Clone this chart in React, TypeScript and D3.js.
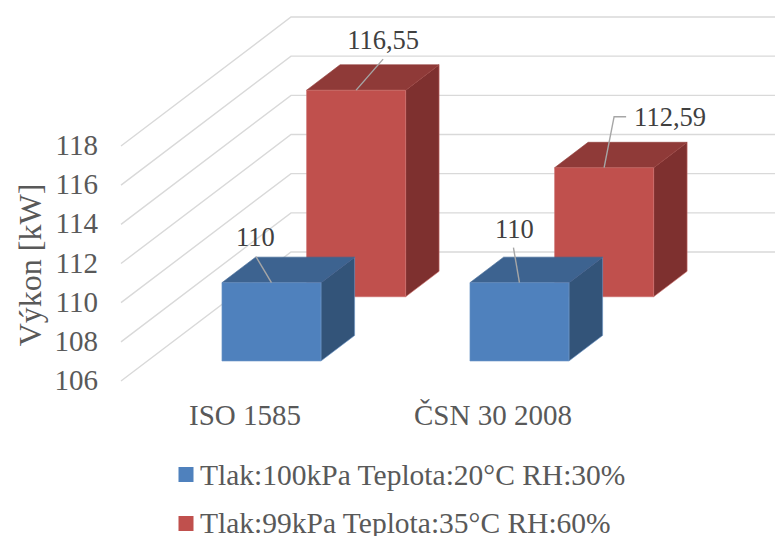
import React from "react";
import * as d3 from "d3";

const categories = ["ISO 1585", "ČSN 30 2008"];
const seriesNames = ["Tlak:100kPa Teplota:20°C RH:30%", "Tlak:99kPa Teplota:35°C RH:60%"];
const seriesA = [110, 110];
const seriesB = [116.55, 112.59];
const labelsA = ["110", "110"];
const labelsB = ["116,55", "112,59"];
const ticks = [106, 108, 110, 112, 114, 116, 118];

const FONT = "'Liberation Serif', 'Times New Roman', serif";
const W = 775, H = 536;
const depthX = 170, depthY = 129;
const y = d3.scaleLinear().domain([106, 118]).range([381, 146]);
const x = d3.scaleBand<string>().domain(categories).range([121, 617]).paddingInner(0).paddingOuter(0);
const project = (fx: number, v: number, d: number): [number, number] => [fx + depthX * d, y(v) - depthY * d];
const path = (pts: [number, number][]) => d3.line()(pts) + "Z";

const barInset = 74.6, barW = 99;
const depths = [{ front: 0.155, back: 0.353 }, { front: 0.653, back: 0.85 }];
const palettes = [
  { front: "#4F81BD", top: "#3D6390", side: "#335479", edge: "#6C96C8" },
  { front: "#C0504D", top: "#8F3A38", side: "#7E302F", edge: "#CC6F6C" },
];

function Bar({ cat, value, s }: { cat: string; value: number; s: number }) {
  const x0 = x(cat)! + barInset, x1 = x0 + barW;
  const { front, back } = depths[s];
  const p = palettes[s];
  const base = 106;
  return (
    <g stroke={p.edge} strokeWidth={0.6} strokeLinejoin="round">
      <path d={path([project(x1, base, front), project(x1, value, front), project(x1, value, back), project(x1, base, back)])} fill={p.side} />
      <path d={path([project(x0, value, front), project(x1, value, front), project(x1, value, back), project(x0, value, back)])} fill={p.top} stroke={p.top} />
      <path d={path([project(x0, base, front), project(x1, base, front), project(x1, value, front), project(x0, value, front)])} fill={p.front} />
    </g>
  );
}

// leader offsets from the bar's front-top midpoint, and label anchor offset
const leaders: { s: number; c: number; pts: [number, number][]; tx: number; ty: number; anchor: string }[] = [
  { s: 0, c: 0, pts: [[0, 0], [-15.5, -26]], tx: -16, ty: -37, anchor: "middle" },
  { s: 1, c: 0, pts: [[0, 0], [27, -31]], tx: 27, ty: -41, anchor: "middle" },
  { s: 0, c: 1, pts: [[0, 0], [-6, -35]], tx: -5, ty: -45, anchor: "middle" },
  { s: 1, c: 1, pts: [[0, 0], [10, -51], [22, -51]], tx: 30, ty: -42, anchor: "start" },
];

export default function App() {
  const values = [seriesA, seriesB];
  const labels = [labelsA, labelsB];
  return (
    <svg width={W} height={H} viewBox={`0 0 ${W} ${H}`} style={{ position: "absolute", left: 0, top: 0, background: "#fff" }} fontFamily={FONT}>
      <g fill="none" stroke="#D9D9D9" strokeWidth={1.4}>
        {ticks.map((t) => {
          const a = project(x.range()[0], t, 0), b = project(x.range()[0], t, 1), c = project(x.range()[1], t, 1);
          return <path key={t} d={d3.line()([a, b, c])!} />;
        })}
      </g>
      <g fontSize={29} fill="#595959" textAnchor="end">
        {ticks.map((t) => (
          <text key={t} x={98} y={y(t) + 9}>{t}</text>
        ))}
      </g>
      <text transform="translate(41,265) rotate(-90)" textAnchor="middle" fontSize={32} fill="#595959">Výkon [kW]</text>
      {categories.map((c, i) => (
        <g key={c}>
          <Bar cat={c} value={seriesB[i]} s={1} />
        </g>
      ))}
      {categories.map((c, i) => (
        <g key={c}>
          <Bar cat={c} value={seriesA[i]} s={0} />
        </g>
      ))}
      {leaders.map((l) => {
        const cat = categories[l.c];
        const v = values[l.s][l.c];
        const [ax, ay] = project(x(cat)! + barInset + barW / 2, v, depths[l.s].front);
        return (
          <g key={`${l.s}-${l.c}`}>
            <path d={d3.line()(l.pts.map(([dx, dy]) => [ax + dx, ay + dy] as [number, number]))!} fill="none" stroke="#A6A6A6" strokeWidth={1.4} />
            <text x={ax + l.tx} y={ay + l.ty} textAnchor={l.anchor} fontSize={26.5} fill="#404040">{labels[l.s][l.c]}</text>
          </g>
        );
      })}
      <g fontSize={29} fill="#595959" textAnchor="middle">
        {categories.map((c) => (
          <text key={c} x={x(c)! + x.bandwidth() / 2} y={425}>{c}</text>
        ))}
      </g>
      {seriesNames.map((n, i) => (
        <g key={n}>
          <rect x={178.5} y={467 + i * 49} width={15} height={15} fill={palettes[i].front} />
          <text x={200} y={485 + i * 47.5} fontSize={29.5} fill="#595959">{n}</text>
        </g>
      ))}
    </svg>
  );
}
